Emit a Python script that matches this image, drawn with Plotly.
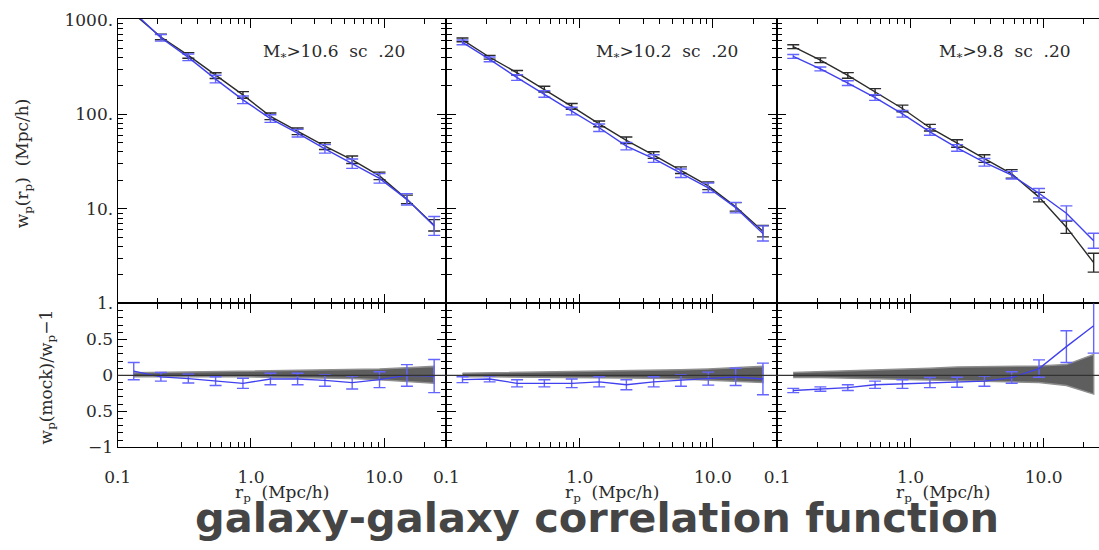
import plotly.graph_objects as go

# ---------------- data ----------------
rp = [0.132, 0.211, 0.339, 0.543, 0.871, 1.40, 2.24, 3.59, 5.75, 9.22, 14.8, 23.7]

panel_labels = ["M<sub>*</sub>>10.6  sc  .20", "M<sub>*</sub>>10.2  sc  .20", "M<sub>*</sub>>9.8  sc  .20"]

# observed w_p (black) and mock w_p (blue), Mpc/h
wp_obs_1 = [1150, 655, 418, 256, 160, 95, 66, 46, 33, 22.3, 12.6, 6.7]
wp_mock_1 = [1200, 642, 399, 235, 142, 90, 63, 43, 30, 21.0, 12.6, 6.6]
wp_obs_2 = [611, 400, 274, 184, 121, 79, 53, 37, 25.6, 17.5, 10.5, 5.8]
wp_mock_2 = [574, 380, 244, 164, 108, 72, 46, 34, 23.8, 16.7, 10.3, 5.5]
wp_obs_3 = [517, 372, 257, 172, 115, 72, 49, 34, 23.4, 13.3, 6.4, 2.7]
wp_mock_3 = [408, 301, 213, 150, 101, 65, 44, 31, 22.7, 14.6, 9.0, 4.6]

# half-widths of error bars in dex
err_obs_1 = [0.03, 0.03, 0.03, 0.03, 0.035, 0.035, 0.035, 0.035, 0.04, 0.04, 0.045, 0.06]
err_mock_1 = [0.04, 0.035, 0.035, 0.04, 0.04, 0.04, 0.04, 0.045, 0.05, 0.05, 0.06, 0.10]
err_obs_2 = [0.02, 0.02, 0.025, 0.03, 0.03, 0.03, 0.035, 0.035, 0.035, 0.04, 0.045, 0.06]
err_mock_2 = [0.025, 0.025, 0.03, 0.035, 0.04, 0.04, 0.04, 0.04, 0.045, 0.05, 0.055, 0.08]
err_obs_3 = [0.02, 0.025, 0.03, 0.035, 0.035, 0.035, 0.04, 0.04, 0.045, 0.05, 0.066, 0.10]
err_mock_3 = [0.02, 0.02, 0.025, 0.03, 0.035, 0.035, 0.035, 0.04, 0.04, 0.05, 0.077, 0.08]

# ratio w_p(mock)/w_p - 1 and its errors
ratio_1 = [0.06, -0.02, -0.045, -0.08, -0.11, -0.05, -0.05, -0.07, -0.10, -0.06, 0.0, -0.01]
ratio_err_1 = [0.12, 0.06, 0.06, 0.06, 0.07, 0.08, 0.08, 0.08, 0.09, 0.11, 0.15, 0.23]
ratio_2 = [-0.06, -0.05, -0.11, -0.11, -0.11, -0.09, -0.13, -0.09, -0.07, -0.045, -0.02, -0.05]
ratio_err_2 = [0.04, 0.04, 0.05, 0.05, 0.06, 0.07, 0.07, 0.07, 0.08, 0.09, 0.12, 0.22]
ratio_3 = [-0.21, -0.19, -0.17, -0.13, -0.12, -0.10, -0.095, -0.08, -0.03, 0.095, 0.40, 0.69]
ratio_err_3 = [0.03, 0.03, 0.04, 0.05, 0.06, 0.07, 0.07, 0.07, 0.08, 0.12, 0.22, 0.38]

# grey band (sample variance) edges
band_hi_1 = [0.035, 0.04, 0.045, 0.05, 0.055, 0.06, 0.065, 0.07, 0.08, 0.09, 0.105, 0.125]
band_lo_1 = [-0.02, -0.02, -0.02, -0.02, -0.02, -0.025, -0.03, -0.035, -0.045, -0.06, -0.08, -0.11]
band_hi_2 = [0.03, 0.035, 0.04, 0.045, 0.05, 0.055, 0.06, 0.07, 0.08, 0.09, 0.105, 0.125]
band_lo_2 = [-0.02, -0.02, -0.02, -0.025, -0.025, -0.03, -0.035, -0.04, -0.05, -0.06, -0.08, -0.10]
band_hi_3 = [0.04, 0.05, 0.06, 0.075, 0.09, 0.10, 0.115, 0.12, 0.125, 0.13, 0.15, 0.29]
band_lo_3 = [-0.03, -0.03, -0.035, -0.045, -0.05, -0.06, -0.07, -0.08, -0.09, -0.10, -0.14, -0.26]

x_tickvals = [0.1, 1, 10]
x_ticktext = ["0.1", "1.0", "10.0"]
y_tickvals = [1, 10, 100, 1000]
y_ticktext = ["1.", "10.", "100.", "1000."]
r_tickvals = [-1, -0.5, 0, 0.5]
r_ticktext = ["\u22121", "0.5", "0", "0.5"]

title_text = "galaxy-galaxy correlation function"

# ---------------- figure ----------------
W, H = 1099, 550
BLACK = "#2b2b2b"
BLUE_LINE = "#4040ee"
BLUE_ERR = "#6464ff"
FONT = "DejaVu Serif"
TXT = "#2a2a2a"

fig = go.Figure()

obs = [wp_obs_1, wp_obs_2, wp_obs_3]
mock = [wp_mock_1, wp_mock_2, wp_mock_3]
eobs = [err_obs_1, err_obs_2, err_obs_3]
emock = [err_mock_1, err_mock_2, err_mock_3]
ratios = [ratio_1, ratio_2, ratio_3]
rerrs = [ratio_err_1, ratio_err_2, ratio_err_3]
bhi = [band_hi_1, band_hi_2, band_hi_3]
blo = [band_lo_1, band_lo_2, band_lo_3]


def up(vals, dex):
    return [v * (10 ** d - 1) for v, d in zip(vals, dex)]


def dn(vals, dex):
    return [v * (1 - 10 ** (-d)) for v, d in zip(vals, dex)]


for i in range(3):
    xa_u, ya_u = f"x{i+1}", f"y{i+1}"
    xa_l, ya_l = f"x{i+4}", f"y{i+4}"
    fig.add_trace(go.Scatter(
        x=rp, y=obs[i], xaxis=xa_u, yaxis=ya_u, mode="lines",
        line=dict(color=BLACK, width=1.4),
        error_y=dict(type="data", symmetric=False, array=up(obs[i], eobs[i]),
                     arrayminus=dn(obs[i], eobs[i]), color=BLACK, thickness=1.4, width=6),
        showlegend=False))
    fig.add_trace(go.Scatter(
        x=rp, y=mock[i], xaxis=xa_u, yaxis=ya_u, mode="lines",
        line=dict(color=BLUE_LINE, width=1.4),
        error_y=dict(type="data", symmetric=False, array=up(mock[i], emock[i]),
                     arrayminus=dn(mock[i], emock[i]), color=BLUE_ERR, thickness=1.4, width=6),
        showlegend=False))
    # band
    fig.add_trace(go.Scatter(
        x=rp + rp[::-1], y=bhi[i] + blo[i][::-1], xaxis=xa_l, yaxis=ya_l,
        mode="lines", fill="toself", fillcolor="#5e5e5e",
        line=dict(color="#8e8e8e", width=1.5), showlegend=False, hoverinfo="skip"))
    fig.add_trace(go.Scatter(
        x=rp, y=ratios[i], xaxis=xa_l, yaxis=ya_l, mode="lines",
        line=dict(color=BLUE_LINE, width=1.3),
        error_y=dict(type="data", array=rerrs[i], color=BLUE_ERR, thickness=1.4, width=6),
        showlegend=False))

xdom = [(105 / W, 438 / W), (438 / W, 773 / W), (773 / W, 1.0)]
xrng = [(-1, -1 + 333 / 135), (-1, -1 + 335 / 135), (-1, -1 + 326 / 135)]
ydom_u = (245 / H, 540 / H)
ydom_l = (96 / H, 245 / H)

minor_x = [0.2, 0.3, 0.4, 0.5, 0.6, 0.7, 0.8, 0.9, 2, 3, 4, 5, 6, 7, 8, 9, 20, 30]
minor_y = [2, 3, 4, 5, 6, 7, 8, 9, 20, 30, 40, 50, 60, 70, 80, 90, 200, 300, 400, 500, 600, 700, 800, 900]
minor_r = [v / 10 for v in range(-10, 11) if v % 5 != 0]

common = dict(showline=True, linecolor="black", linewidth=1.2, ticks="inside",
              ticklen=9, tickwidth=1.2, tickcolor="black", showgrid=False, zeroline=False,
              tickfont=dict(family=FONT, size=17, color=TXT))

layout = dict(width=W, height=H, margin=dict(l=0, r=0, t=0, b=0),
              paper_bgcolor="white", plot_bgcolor="white", showlegend=False)

for i in range(3):
    mirror = True if i < 2 else False
    layout[f"xaxis{i+1 if i else ''}"] = dict(
        common, type="log", domain=xdom[i], range=xrng[i], anchor=f"y{i+1}",
        tickvals=x_tickvals, showticklabels=False, mirror="allticks",
        minor=dict(tickvals=minor_x, ticks="inside", ticklen=5, tickcolor="black", tickwidth=1))
    layout[f"xaxis{i+4}"] = dict(
        common, type="log", domain=xdom[i], range=xrng[i], anchor=f"y{i+4}",
        tickvals=x_tickvals, ticktext=x_ticktext, showticklabels=True, mirror="allticks",
        ticklabelstandoff=14,
        minor=dict(tickvals=minor_x, ticks="inside", ticklen=5, tickcolor="black", tickwidth=1))
    layout[f"yaxis{i+1 if i else ''}"] = dict(
        common, type="log", domain=ydom_u, range=[0, 3.01], anchor=f"x{i+1}",
        tickvals=y_tickvals, ticktext=y_ticktext, showticklabels=(i == 0),
        mirror="allticks" if mirror else False,
        minor=dict(tickvals=minor_y, ticks="inside", ticklen=5, tickcolor="black", tickwidth=1))
    layout[f"yaxis{i+4}"] = dict(
        common, domain=ydom_l, range=[-1, 1.0], anchor=f"x{i+4}",
        tickvals=r_tickvals, ticktext=r_ticktext, showticklabels=(i == 0),
        mirror="allticks" if mirror else False,
        minor=dict(tickvals=minor_r, ticks="inside", ticklen=5, tickcolor="black", tickwidth=1))

fig.update_layout(**layout)

for i in range(3):
    fig.add_shape(type="line", xref=f"x{i+4} domain", yref=f"y{i+4}", x0=0, x1=1, y0=0, y1=0,
                  line=dict(color="#333", width=1.3), layer="above")

annotations = []
label_x = [250, 587, 935]
for i in range(3):
    annotations.append(dict(text=panel_labels[i], x=label_x[i] / W, y=1 - 45 / H, xref="paper",
                            yref="paper", xanchor="left", yanchor="middle", showarrow=False,
                            font=dict(family=FONT, size=17, color=TXT)))
xt_centers = [271, 606, 941]
for i in range(3):
    annotations.append(dict(text="r<sub>p</sub>  (Mpc/h)", x=xt_centers[i] / W, y=1 - 502 / H,
                            xref="paper", yref="paper", xanchor="center", yanchor="middle",
                            showarrow=False, font=dict(family=FONT, size=17, color=TXT)))
annotations.append(dict(text="w<sub>p</sub>(r<sub>p</sub>)  (Mpc/h)", x=10 / W, y=1 - 160 / H,
                        xref="paper", yref="paper", xanchor="center", yanchor="middle",
                        textangle=-90, showarrow=False, font=dict(family=FONT, size=17, color=TXT)))
annotations.append(dict(text="w<sub>p</sub>(mock)/w<sub>p</sub>\u22121", x=34 / W, y=1 - 381 / H,
                        xref="paper", yref="paper", xanchor="center", yanchor="middle",
                        textangle=-90, showarrow=False, font=dict(family=FONT, size=17, color=TXT)))
annotations.append(dict(text="<b>" + title_text + "</b>", x=591 / W, y=1 - 527 / H,
                        xref="paper", yref="paper", xanchor="center", yanchor="middle",
                        showarrow=False, font=dict(family="DejaVu Sans", size=41.5, color="#454545")))
fig.update_layout(annotations=annotations)

fig.write_html("out.html")
